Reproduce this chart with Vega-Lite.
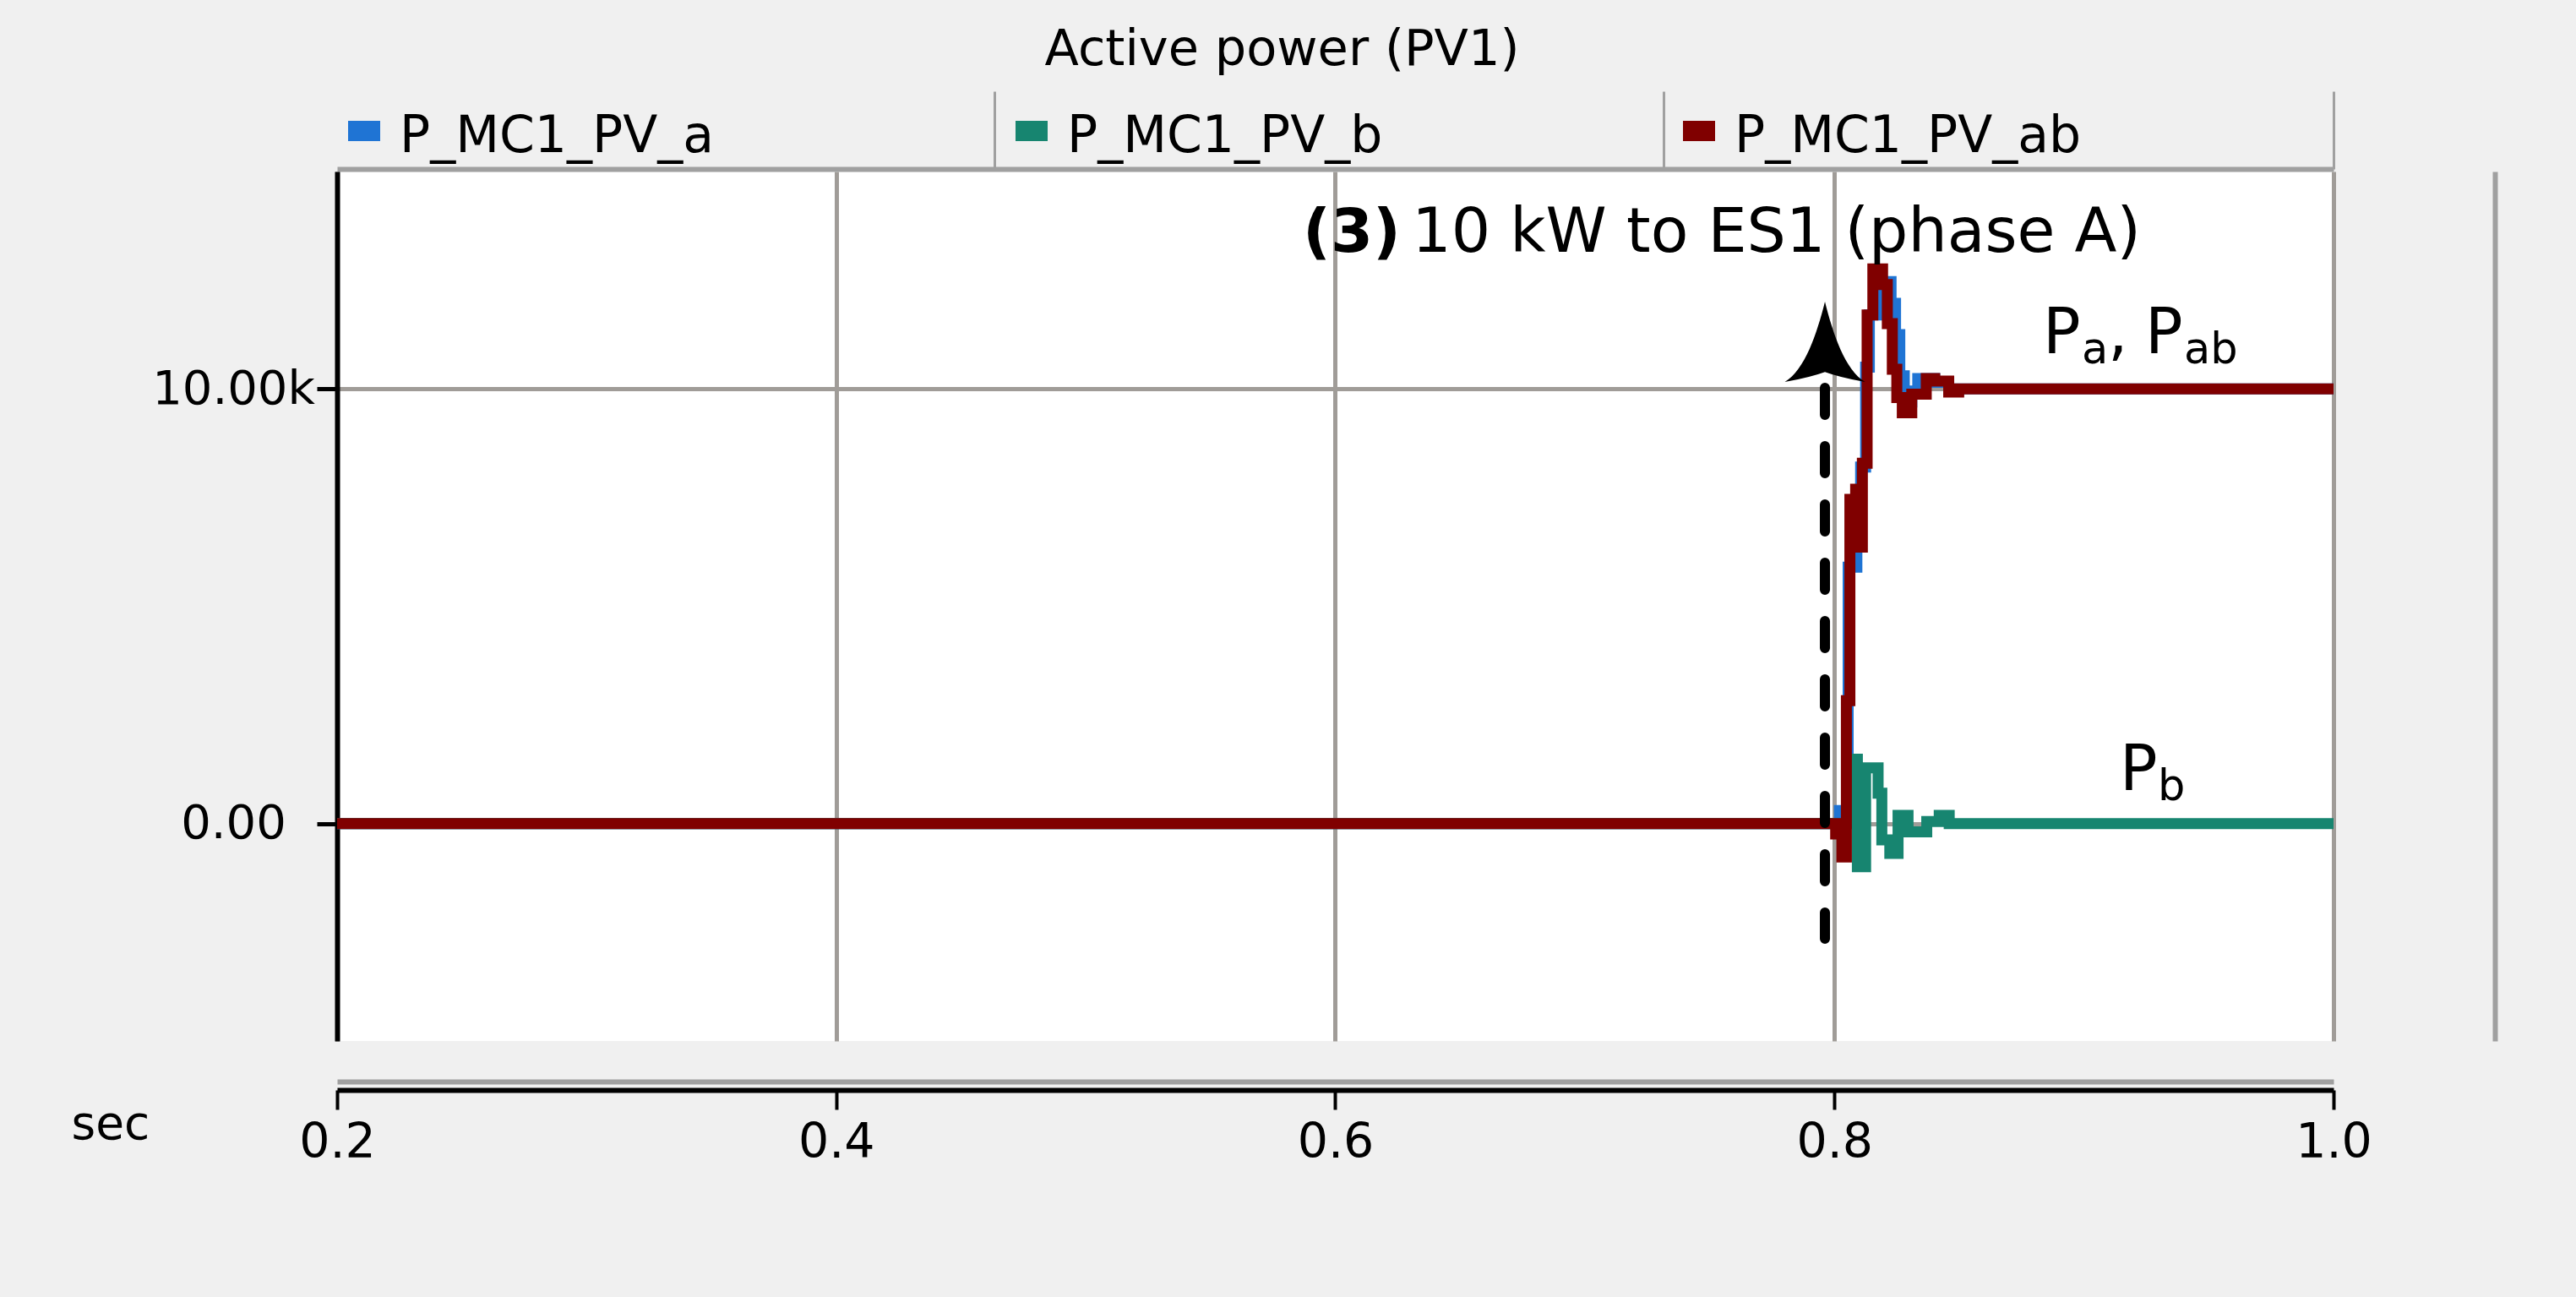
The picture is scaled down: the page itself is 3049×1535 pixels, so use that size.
{
  "$schema": "https://vega.github.io/schema/vega-lite/v6.json",
  "width": 2363,
  "height": 1029,
  "autosize": {"type": "none"},
  "padding": {"left": 399, "top": 203, "right": 287, "bottom": 303},
  "background": "#f0f0f0",
  "view": {"fill": "white", "stroke": null},
  "title": {
    "text": "Active power (PV1)",
    "font": "DejaVu Sans",
    "fontSize": 59,
    "fontWeight": "normal",
    "color": "black",
    "anchor": "middle",
    "frame": "group",
    "dx": -63,
    "dy": 39,
    "offset": 10,
    "baseline": "alphabetic"
  },
  "datasets": {
    "power": [
      {"t": 0.2, "s": "P_MC1_PV_a", "P": 0},
      {"t": 0.802, "s": "P_MC1_PV_a", "P": 300},
      {"t": 0.8055, "s": "P_MC1_PV_a", "P": 5900},
      {"t": 0.809, "s": "P_MC1_PV_a", "P": 6700},
      {"t": 0.8105, "s": "P_MC1_PV_a", "P": 8200},
      {"t": 0.8125, "s": "P_MC1_PV_a", "P": 10500},
      {"t": 0.814, "s": "P_MC1_PV_a", "P": 11700},
      {"t": 0.8193, "s": "P_MC1_PV_a", "P": 12470},
      {"t": 0.8227, "s": "P_MC1_PV_a", "P": 11970},
      {"t": 0.8245, "s": "P_MC1_PV_a", "P": 11250},
      {"t": 0.8262, "s": "P_MC1_PV_a", "P": 10300},
      {"t": 0.828, "s": "P_MC1_PV_a", "P": 9700},
      {"t": 0.831, "s": "P_MC1_PV_a", "P": 9950},
      {"t": 0.8334, "s": "P_MC1_PV_a", "P": 10240},
      {"t": 0.8402, "s": "P_MC1_PV_a", "P": 10150},
      {"t": 0.8458, "s": "P_MC1_PV_a", "P": 9980},
      {"t": 0.8498, "s": "P_MC1_PV_a", "P": 10000},
      {"t": 1.0, "s": "P_MC1_PV_a", "P": 10000},
      {"t": 0.2, "s": "P_MC1_PV_b", "P": 0},
      {"t": 0.8082, "s": "P_MC1_PV_b", "P": 1480},
      {"t": 0.8092, "s": "P_MC1_PV_b", "P": -990},
      {"t": 0.8125, "s": "P_MC1_PV_b", "P": 1285},
      {"t": 0.8175, "s": "P_MC1_PV_b", "P": 700},
      {"t": 0.819, "s": "P_MC1_PV_b", "P": -375},
      {"t": 0.8222, "s": "P_MC1_PV_b", "P": -685},
      {"t": 0.8255, "s": "P_MC1_PV_b", "P": 190},
      {"t": 0.8295, "s": "P_MC1_PV_b", "P": -190},
      {"t": 0.837, "s": "P_MC1_PV_b", "P": 50},
      {"t": 0.842, "s": "P_MC1_PV_b", "P": 190},
      {"t": 0.846, "s": "P_MC1_PV_b", "P": 0},
      {"t": 1.0, "s": "P_MC1_PV_b", "P": 0},
      {"t": 0.2, "s": "P_MC1_PV_ab", "P": 0},
      {"t": 0.8005, "s": "P_MC1_PV_ab", "P": -240},
      {"t": 0.803, "s": "P_MC1_PV_ab", "P": -770},
      {"t": 0.8048, "s": "P_MC1_PV_ab", "P": 2830},
      {"t": 0.8062, "s": "P_MC1_PV_ab", "P": 7460},
      {"t": 0.8085, "s": "P_MC1_PV_ab", "P": 7690},
      {"t": 0.8098, "s": "P_MC1_PV_ab", "P": 6360},
      {"t": 0.8112, "s": "P_MC1_PV_ab", "P": 8290},
      {"t": 0.8131, "s": "P_MC1_PV_ab", "P": 11700},
      {"t": 0.8154, "s": "P_MC1_PV_ab", "P": 12760},
      {"t": 0.8193, "s": "P_MC1_PV_ab", "P": 12400},
      {"t": 0.8212, "s": "P_MC1_PV_ab", "P": 11500},
      {"t": 0.8232, "s": "P_MC1_PV_ab", "P": 10450},
      {"t": 0.825, "s": "P_MC1_PV_ab", "P": 9800},
      {"t": 0.8272, "s": "P_MC1_PV_ab", "P": 9450},
      {"t": 0.831, "s": "P_MC1_PV_ab", "P": 9880},
      {"t": 0.8368, "s": "P_MC1_PV_ab", "P": 10240},
      {"t": 0.8402, "s": "P_MC1_PV_ab", "P": 10180},
      {"t": 0.8458, "s": "P_MC1_PV_ab", "P": 9925},
      {"t": 0.8498, "s": "P_MC1_PV_ab", "P": 10000},
      {"t": 1.0, "s": "P_MC1_PV_ab", "P": 10000}
    ],
    "event": [{"t": 0.7962, "P": 10024, "P2": -2648}],
    "arrow": [{"t": 0.7962, "P": 10160}],
    "boldText": [{"t": 0.58697, "P": 13153, "text": "(3)"}],
    "normalText": [{"t": 0.92281, "P": 13153, "text": "10 kW to ES1 (phase A)"}],
    "mainLabels": [
      {"t": 0.88354, "P": 10821, "text": "P"},
      {"t": 0.90961, "P": 10821, "text": ","},
      {"t": 0.9245, "P": 10821, "text": "P"},
      {"t": 0.91434, "P": 773, "text": "P"}
    ],
    "subLabels": [
      {"t": 0.89911, "P": 10588, "text": "a"},
      {"t": 0.94007, "P": 10588, "text": "ab"},
      {"t": 0.92958, "P": 530, "text": "b"}
    ]
  },
  "layer": [
    {
      "data": {"name": "power"},
      "mark": {"type": "line", "interpolate": "step-after", "strokeWidth": 13, "strokeJoin": "miter"},
      "encoding": {
        "x": {
          "field": "t", "type": "quantitative",
          "scale": {"domain": [0.2, 1.0], "nice": false, "zero": false},
          "axis": {
            "orient": "bottom", "offset": 58, "grid": false,
            "values": [0.2, 0.4, 0.6, 0.8, 1.0], "format": ".1f",
            "domainColor": "black", "domainWidth": 6,
            "tickColor": "black", "tickWidth": 4, "tickSize": 23,
            "labelFont": "DejaVu Sans", "labelFontSize": 57, "labelColor": "black",
            "labelPadding": 56, "labelBaseline": "alphabetic", "labelDx": -15,
            "labelFlush": false, "labelOverlap": false, "labelBound": false,
            "title": "sec", "titleX": -315, "titleY": 57, "titleAlign": "left",
            "titleBaseline": "alphabetic", "titleFont": "DejaVu Sans", "titleFontSize": 55,
            "titleFontWeight": "normal", "titleColor": "black"
          }
        },
        "y": {
          "field": "P", "type": "quantitative",
          "scale": {"domain": [-5000, 15000], "nice": false, "zero": false},
          "axis": {
            "orient": "left", "values": [0, 10000],
            "labelExpr": "datum.value == 0 ? '0.00' : format(datum.value / 1000, '.2f') + 'k'",
            "grid": true, "gridColor": "#a09c98", "gridWidth": 5,
            "domainColor": "black", "domainWidth": 6,
            "tickColor": "black", "tickWidth": 5, "tickSize": 24,
            "labelFont": "DejaVu Sans", "labelFontSize": 56, "labelColor": "black",
            "labelAlign": "center", "labelPadding": 99, "labelLimit": 400,
            "labelFlush": false, "labelOverlap": false,
            "title": null
          }
        },
        "color": {
          "field": "s", "type": "nominal",
          "scale": {
            "domain": ["P_MC1_PV_a", "P_MC1_PV_b", "P_MC1_PV_ab"],
            "range": ["#1f74d4", "#178570", "#800000"]
          },
          "legend": {
            "orient": "none", "legendX": 2, "legendY": -71,
            "direction": "horizontal", "columns": 3, "gridAlign": "all",
            "columnPadding": 300, "title": null, "padding": 0,
            "symbolType": "M-1.3,-1.3H1.3V-0.1H-1.3Z", "symbolSize": 400,
            "symbolStrokeWidth": 12, "symbolOpacity": 1,
            "labelFont": "DejaVu Sans", "labelFontSize": 60, "labelColor": "black",
            "labelOffset": 12, "labelLimit": 2000
          }
        }
      }
    },
    {
      "data": {"name": "event"},
      "mark": {"type": "rule", "color": "black", "strokeWidth": 12, "strokeDash": [32, 37], "strokeCap": "round"},
      "encoding": {
        "x": {
          "field": "t", "type": "quantitative",
          "scale": {"domain": [0.2, 1.0], "nice": false, "zero": false},
          "axis": {
            "orient": "bottom", "offset": 0, "domain": false, "ticks": false,
            "labels": false, "grid": true, "gridColor": "#a09c98", "gridWidth": 5,
            "values": [0.2, 0.4, 0.6, 0.8, 1.0], "title": null
          }
        },
        "y": {
          "field": "P", "type": "quantitative",
          "scale": {"domain": [-5000, 15000], "nice": false, "zero": false},
          "axis": {
            "orient": "right", "offset": 191, "domainColor": "#a0a0a0", "domainWidth": 6,
            "ticks": false, "labels": false, "grid": false, "title": null
          }
        },
        "y2": {"field": "P2"}
      }
    },
    {
      "data": {"name": "arrow"},
      "mark": {
        "type": "point", "filled": true, "color": "black", "opacity": 1, "size": 9025,
        "shape": "M0,-2 C0.2,-1.2 0.5,-0.3 1,0 Q0.35,-0.12 0,-0.25 Q-0.35,-0.12 -1,0 C-0.5,-0.3 -0.2,-1.2 0,-2 Z"
      },
      "encoding": {
        "x": {
          "field": "t", "type": "quantitative",
          "scale": {"domain": [0.2, 1.0], "nice": false, "zero": false},
          "axis": {
            "orient": "top", "offset": 3, "values": [0.46339, 0.73153, 1.0],
            "domainColor": "#a0a0a0", "domainWidth": 6,
            "ticks": true, "tickColor": "#a0a0a0", "tickWidth": 3, "tickSize": 92,
            "labels": false, "grid": false, "title": null
          }
        },
        "y": {
          "field": "P", "type": "quantitative",
          "scale": {"domain": [-5000, 15000], "nice": false, "zero": false},
          "axis": null
        }
      }
    },
    {
      "data": {"name": "boldText"},
      "mark": {"type": "text", "font": "DejaVu Sans", "fontSize": 72, "fontWeight": "bold", "align": "left", "baseline": "alphabetic", "color": "black"},
      "encoding": {
        "x": {
          "field": "t", "type": "quantitative",
          "scale": {"domain": [0.2, 1.0], "nice": false, "zero": false},
          "axis": {
            "orient": "bottom", "offset": 48, "domainColor": "#a0a0a0", "domainWidth": 6,
            "ticks": false, "labels": false, "grid": false, "title": null
          }
        },
        "y": {
          "field": "P", "type": "quantitative",
          "scale": {"domain": [-5000, 15000], "nice": false, "zero": false},
          "axis": null
        },
        "text": {"field": "text"}
      }
    },
    {
      "data": {"name": "normalText"},
      "mark": {"type": "text", "font": "DejaVu Sans", "fontSize": 73, "fontWeight": "normal", "align": "right", "baseline": "alphabetic", "color": "black"},
      "encoding": {
        "x": {"field": "t", "type": "quantitative", "scale": {"domain": [0.2, 1.0], "nice": false, "zero": false}, "axis": null},
        "y": {"field": "P", "type": "quantitative", "scale": {"domain": [-5000, 15000], "nice": false, "zero": false}, "axis": null},
        "text": {"field": "text"}
      }
    },
    {
      "data": {"name": "mainLabels"},
      "mark": {"type": "text", "font": "DejaVu Sans", "fontSize": 74, "align": "left", "baseline": "alphabetic", "color": "black"},
      "encoding": {
        "x": {"field": "t", "type": "quantitative", "scale": {"domain": [0.2, 1.0], "nice": false, "zero": false}, "axis": null},
        "y": {"field": "P", "type": "quantitative", "scale": {"domain": [-5000, 15000], "nice": false, "zero": false}, "axis": null},
        "text": {"field": "text"}
      }
    },
    {
      "data": {"name": "subLabels"},
      "mark": {"type": "text", "font": "DejaVu Sans", "fontSize": 51, "align": "left", "baseline": "alphabetic", "color": "black"},
      "encoding": {
        "x": {"field": "t", "type": "quantitative", "scale": {"domain": [0.2, 1.0], "nice": false, "zero": false}, "axis": null},
        "y": {"field": "P", "type": "quantitative", "scale": {"domain": [-5000, 15000], "nice": false, "zero": false}, "axis": null},
        "text": {"field": "text"}
      }
    }
  ],
  "resolve": {"axis": {"x": "independent", "y": "independent"}},
  "config": {"font": "DejaVu Sans"}
}
